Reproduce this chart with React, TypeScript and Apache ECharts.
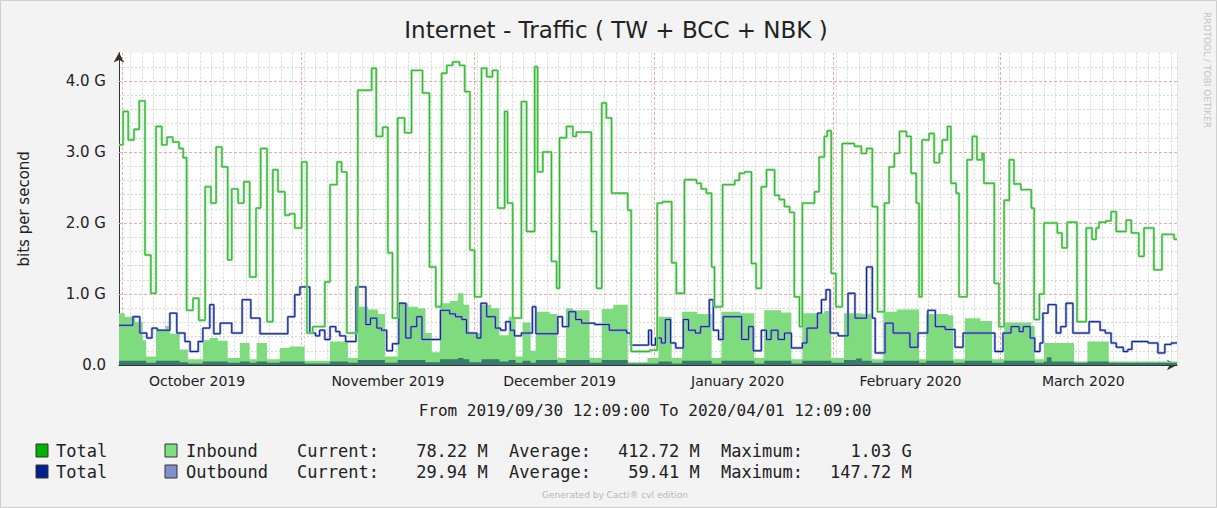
import React, { useEffect, useRef } from 'react';
import * as echarts from 'echarts';

const TITLE = 'Internet - Traffic ( TW + BCC + NBK )';
const Y_NAME = 'bits per second';
const RANGE_TEXT = 'From 2019/09/30 12:09:00 To 2020/04/01 12:09:00';
const WATERMARK = 'RRDTOOL / TOBI OETIKER';
const GENERATED = 'Generated by Cacti\u00AE cvl edition';

// x unit: days since 2019/09/30 12:09
const X_MAX = 183;
const MONTH_LABELS = ['October 2019', 'November 2019', 'December 2019', 'January 2020', 'February 2020', 'March 2020'];
const MONTH_LABEL_DAYS = [13.5, 46.5, 76.2, 107.0, 136.9, 166.8];
const MONTH_START_DAYS = [0.5, 31.5, 61.5, 92.5, 123.5, 152.5];
const Y_TICKS = [0, 1, 2, 3, 4]; // Gbit/s

const LEGEND_NAMES = ['Inbound', 'Outbound'];
const CURRENT = ['78.22 M', '29.94 M'];
const AVERAGE = ['412.72 M', '59.41 M'];
const MAXIMUM = ['1.03 G', '147.72 M'];

// [day, Gbit/s] step breakpoints
const totalInbound: [number, number][] = [
  [0, 3.10], [0.7, 3.57], [1.6, 3.17], [2.6, 3.32], [3.5, 3.72], [4.5, 1.55], [5.5, 1.01], [6.4, 3.36], [7.4, 3.10], [8.3, 3.21],
  [9.3, 3.14], [10.4, 3.05], [11.1, 2.92], [11.7, 0.77], [12.8, 0.94], [13.8, 0.63], [14.9, 2.51], [15.9, 2.28], [16.8, 3.07], [17.8, 2.79],
  [18.8, 1.48], [19.5, 2.48], [20.6, 2.28], [21.6, 2.58], [22.6, 1.24], [23.7, 2.21], [24.5, 3.05], [25.6, 0.61], [26.6, 2.75], [27.5, 2.44],
  [28.7, 2.11], [29.5, 2.13], [30.4, 1.93], [31.6, 2.86], [32.5, 0.45], [33.5, 0.54], [35.6, 1.17], [36.5, 2.54], [37.7, 2.86], [38.5, 2.72],
  [39.4, 0.45], [41.3, 3.87], [43.7, 4.18], [44.5, 3.22], [45.6, 3.35], [46.5, 1.58], [47.3, 0.66], [48.2, 3.48], [49.4, 3.27], [50.6, 4.15],
  [52.5, 3.83], [53.7, 1.38], [54.8, 0.82], [55.8, 4.11], [56.7, 4.22], [57.7, 4.27], [58.9, 4.22], [59.8, 3.85], [60.7, 1.62], [61.5, 0.96],
  [62.7, 4.18], [63.6, 4.06], [64.6, 4.15], [65.5, 2.21], [66.7, 3.57], [67.2, 2.28], [68.1, 0.66], [69.6, 3.71], [70.5, 1.88], [71.9, 4.20],
  [72.4, 2.72], [73.3, 3.00], [74.8, 1.46], [75.7, 1.08], [76.2, 3.20], [77.4, 3.36], [78.5, 3.22], [79.1, 3.28], [81.7, 1.88], [82.6, 1.08],
  [83.5, 3.69], [84.3, 3.48], [85.2, 2.42], [88.0, 2.18], [88.6, 0.19], [91.8, 0.21], [93.1, 2.28], [94.0, 2.30], [95.6, 1.44], [96.4, 1.01],
  [97.8, 2.61], [99.9, 2.56], [100.7, 2.48], [101.6, 2.42], [102.5, 1.38], [103.0, 0.82], [104.4, 2.54], [106.5, 2.60], [107.3, 2.70], [108.2, 2.72],
  [109.4, 1.43], [110.2, 1.08], [111.1, 2.51], [112.0, 2.75], [113.4, 2.39], [114.2, 2.33], [115.1, 2.23], [116.0, 2.15], [116.8, 0.96], [117.7, 0.54],
  [118.2, 2.28], [120.3, 2.44], [121.1, 2.93], [122.0, 3.22], [122.5, 3.30], [123.2, 1.29], [124.0, 0.82], [125.1, 3.12], [127.2, 3.08], [128.4, 2.98],
  [129.3, 3.05], [130.3, 2.23], [131.2, 0.75], [132.4, 2.28], [133.2, 2.79], [134.1, 2.98], [135.0, 3.29], [136.2, 3.22], [137.0, 2.70], [137.9, 2.28],
  [138.4, 0.96], [138.9, 3.17], [140.1, 3.26], [141.0, 2.85], [141.9, 2.98], [142.4, 3.17], [143.3, 3.36], [143.9, 2.56], [144.8, 2.42], [145.3, 0.96],
  [146.7, 2.89], [147.6, 3.22], [148.4, 2.89], [149.3, 2.98], [149.6, 2.56], [151.4, 1.15], [152.2, 0.54], [153.1, 2.32], [154.0, 2.89], [154.8, 2.55],
  [156.0, 2.47], [157.8, 2.21], [158.3, 0.64], [159.2, 1.00], [160.0, 2.00], [162.3, 1.86], [163.1, 1.65], [164.0, 2.01], [165.7, 0.61], [167.3, 1.93],
  [168.3, 1.77], [169.0, 1.93], [169.5, 2.01], [170.7, 2.03], [171.6, 2.16], [172.5, 1.88], [174.2, 2.04], [175.1, 1.86], [176.4, 1.53], [177.3, 1.93],
  [179.0, 1.34], [180.4, 1.84], [182.5, 1.77], [183, 1.77],
];

const totalOutbound: [number, number][] = [
  [0, 0.56], [2.4, 0.68], [3.6, 0.45], [4.8, 0.38], [5.7, 0.52], [6.6, 0.49], [8.8, 0.73], [10.0, 0.45], [11.4, 0.33], [12.3, 0.19],
  [13.7, 0.33], [14.5, 0.52], [15.7, 0.85], [16.4, 0.44], [17.5, 0.59], [19.5, 0.45], [21.3, 0.92], [22.8, 0.66], [24.4, 0.44], [29.2, 0.68],
  [30.4, 0.99], [31.3, 1.10], [33.0, 0.45], [34.0, 0.41], [34.7, 0.49], [35.6, 0.36], [36.5, 0.54], [37.5, 0.47], [38.2, 0.41], [39.2, 0.33],
  [41.0, 1.10], [42.7, 0.57], [43.5, 0.66], [44.6, 0.52], [45.4, 0.49], [46.3, 0.20], [47.3, 0.30], [48.4, 0.87], [49.6, 0.38], [50.5, 0.54],
  [51.5, 0.68], [52.4, 0.36], [55.6, 0.77], [57.2, 0.72], [58.2, 0.68], [59.3, 0.64], [60.1, 0.45], [61.9, 0.38], [62.6, 0.87], [63.6, 0.68],
  [65.1, 0.52], [66.0, 0.49], [66.9, 0.61], [67.7, 0.49], [68.4, 0.41], [69.6, 0.45], [71.5, 0.82], [72.1, 0.44], [75.9, 0.68], [76.7, 0.54],
  [77.8, 0.75], [79.0, 0.64], [80.0, 0.59], [82.3, 0.57], [84.8, 0.49], [87.8, 0.45], [88.5, 0.28], [91.6, 0.49], [92.1, 0.28], [92.8, 0.38],
  [93.8, 0.31], [94.5, 0.64], [95.4, 0.31], [96.3, 0.24], [97.6, 0.64], [98.5, 0.49], [99.7, 0.45], [100.6, 0.54], [102.1, 0.92], [102.8, 0.49],
  [103.7, 0.36], [104.5, 0.68], [107.7, 0.36], [108.9, 0.54], [109.7, 0.20], [111.1, 0.49], [112.0, 0.36], [112.8, 0.49], [114.0, 0.36], [115.1, 0.45],
  [116.3, 0.24], [118.2, 0.31], [119.0, 0.52], [120.8, 0.73], [121.5, 0.92], [122.3, 1.06], [123.0, 0.45], [124.4, 0.41], [126.1, 1.01], [127.3, 0.66],
  [129.3, 1.38], [130.3, 0.66], [130.8, 0.17], [132.5, 0.59], [133.9, 0.45], [136.8, 0.25], [138.2, 0.45], [139.9, 0.77], [141.2, 0.54], [142.9, 0.50],
  [144.6, 0.25], [146.0, 0.45], [151.5, 0.19], [152.9, 0.45], [154.3, 0.54], [155.7, 0.47], [156.4, 0.54], [157.6, 0.38], [158.4, 0.19], [159.3, 0.31],
  [159.8, 0.73], [160.7, 0.85], [162.1, 0.45], [162.9, 0.54], [163.8, 0.87], [165.0, 0.45], [167.8, 0.61], [169.7, 0.49], [170.6, 0.45], [171.6, 0.31],
  [172.5, 0.25], [173.7, 0.19], [174.5, 0.22], [175.2, 0.33], [178.0, 0.31], [179.7, 0.17], [180.9, 0.29], [182.0, 0.31], [183, 0.31],
];

const inboundArea: [number, number][] = [
  [0, 0.73], [1.0, 0.68], [2.8, 0.61], [4.1, 0.35], [4.7, 0.12], [6.4, 0.50], [8.0, 0.55], [8.8, 0.44], [10.5, 0.22], [11.9, 0.08],
  [14.5, 0.35], [15.7, 0.38], [17.1, 0.34], [18.8, 0.10], [20.9, 0.31], [22.6, 0.08], [23.8, 0.31], [25.6, 0.08], [27.8, 0.24], [29.5, 0.26],
  [32.1, 0.06], [36.5, 0.33], [39.6, 0.10], [41.3, 0.82], [43.1, 0.78], [44.8, 0.72], [46.0, 0.12], [48.2, 0.87], [50.0, 0.82], [51.7, 0.80],
  [53.0, 0.45], [54.1, 0.18], [55.5, 0.87], [57.2, 0.90], [58.6, 1.01], [59.6, 0.85], [60.6, 0.45], [62.7, 0.85], [64.4, 0.80], [65.8, 0.42],
  [67.4, 0.68], [68.6, 0.12], [69.8, 0.60], [71.2, 0.20], [72.1, 0.75], [74.5, 0.72], [75.8, 0.10], [77.3, 0.80], [78.5, 0.77], [81.4, 0.10],
  [83.5, 0.79], [85.5, 0.85], [88.0, 0.04], [91.4, 0.10], [93.3, 0.68], [95.6, 0.10], [97.4, 0.75], [100.0, 0.72], [102.5, 0.10], [104.2, 0.75],
  [107.5, 0.73], [109.9, 0.10], [111.6, 0.77], [114.5, 0.74], [116.3, 0.08], [118.2, 0.73], [122.0, 0.76], [123.2, 0.10], [125.4, 0.73], [128.5, 0.72],
  [130.2, 0.08], [132.2, 0.75], [134.5, 0.78], [138.4, 0.08], [139.6, 0.72], [143.4, 0.70], [144.3, 0.08], [146.3, 0.66], [149.0, 0.62], [151.0, 0.08],
  [153.1, 0.60], [157.8, 0.55], [158.4, 0.08], [160.0, 0.31], [165.2, 0.05], [167.5, 0.33], [171.2, 0.05], [183, 0.05],
];

const outboundArea: [number, number][] = [
  [0, 0.06], [4.7, 0.03], [6.4, 0.06], [10.5, 0.04], [11.9, 0.02], [14.5, 0.05], [18.8, 0.03], [20.9, 0.05], [22.6, 0.03], [23.8, 0.05],
  [25.6, 0.03], [27.8, 0.05], [32.1, 0.02], [36.5, 0.05], [39.6, 0.03], [41.3, 0.07], [46.0, 0.03], [48.2, 0.07], [53.0, 0.04], [55.5, 0.08],
  [58.6, 0.10], [59.6, 0.08], [60.6, 0.04], [62.7, 0.08], [65.8, 0.05], [67.4, 0.07], [68.6, 0.03], [69.8, 0.06], [71.2, 0.03], [72.1, 0.07],
  [75.8, 0.03], [77.3, 0.07], [81.4, 0.03], [83.5, 0.07], [88.0, 0.02], [93.3, 0.05], [95.6, 0.02], [97.4, 0.06], [102.5, 0.02], [104.2, 0.06],
  [109.9, 0.02], [111.6, 0.06], [116.3, 0.02], [118.2, 0.06], [123.2, 0.03], [125.4, 0.07], [127.5, 0.09], [128.5, 0.06], [130.2, 0.03], [132.2, 0.06],
  [138.4, 0.03], [139.6, 0.06], [144.3, 0.03], [146.3, 0.06], [151.0, 0.03], [153.1, 0.06], [158.4, 0.03], [160.0, 0.05], [160.5, 0.11], [161.3, 0.05],
  [165.2, 0.03], [167.5, 0.05], [171.2, 0.03], [183, 0.03],
];

const SANS = '"DejaVu Sans", sans-serif';
const MONO = '"DejaVu Sans Mono", monospace';

function buildOption() {
  const stepLine = (name: string, data: [number, number][], color: string, width: number, z: number) => ({
    name,
    type: 'line',
    step: 'end',
    data,
    symbol: 'none',
    z,
    silent: true,
    lineStyle: { color, width },
  });

  const legendGraphics: any[] = [];
  const rowY = [451, 472];
  const boxColors = [['#00b400', '#80e080'], ['#00218c', '#8090cc']];
  const cw = 10.6;
  const x0 = 297;
  const txt = (x: number, y: number, text: string, align = 'left') => ({
    type: 'text', x, y,
    style: { text, font: `17px ${MONO}`, fill: '#222', textAlign: align, textVerticalAlign: 'middle' },
  });
  rowY.forEach((y, i) => {
    legendGraphics.push(
      { type: 'rect', shape: { x: 36, y: y - 7, width: 12, height: 13 }, style: { fill: boxColors[i][0], stroke: '#333', lineWidth: 1 } },
      txt(56, y, 'Total'),
      { type: 'rect', shape: { x: 165, y: y - 7, width: 12, height: 13 }, style: { fill: boxColors[i][1], stroke: '#333', lineWidth: 1 } },
      txt(186, y, LEGEND_NAMES[i]),
      txt(x0, y, 'Current:'),
      txt(x0 + 18 * cw, y, CURRENT[i], 'right'),
      txt(x0 + 20 * cw, y, 'Average:'),
      txt(x0 + 38 * cw, y, AVERAGE[i], 'right'),
      txt(x0 + 40 * cw, y, 'Maximum:'),
      txt(x0 + 58 * cw, y, MAXIMUM[i], 'right'),
    );
  });

  return {
    animation: false,
    backgroundColor: '#f3f3f3',
    grid: { left: 119, right: 40, top: 52.6, bottom: 143, show: true, backgroundColor: '#ffffff', borderWidth: 0 },
    xAxis: {
      type: 'value',
      min: 0,
      max: X_MAX,
      interval: 2,
      axisLine: { show: true, lineStyle: { color: '#333', width: 1 }, symbol: ['none', 'arrow'], symbolSize: [8, 10] },
      axisTick: { show: false },
      axisLabel: {
        customValues: MONTH_LABEL_DAYS,
        formatter: (v: number) => {
          const i = MONTH_LABEL_DAYS.findIndex((d) => Math.abs(d - v) < 0.01);
          return i >= 0 ? MONTH_LABELS[i] : '';
        },
        fontFamily: SANS,
        fontSize: 14,
        color: '#222',
        margin: 9,
      },
      splitLine: { show: true, lineStyle: { color: '#d6d6d6', width: 1, type: [2, 2] } },
    },
    yAxis: {
      type: 'value',
      min: 0,
      max: 4.4,
      interval: 1,
      name: Y_NAME,
      nameLocation: 'middle',
      nameRotate: 90,
      nameGap: 88,
      nameTextStyle: { fontFamily: SANS, fontSize: 15, color: '#222' },
      axisLine: { show: true, lineStyle: { color: '#333', width: 1 }, symbol: ['none', 'arrow'], symbolSize: [8, 10] },
      axisTick: { show: false },
      axisLabel: {
        formatter: (v: number) => {
          if (!Y_TICKS.includes(v)) return '';
          return v === 0 ? '0.0' : `${v.toFixed(1)} G`;
        },
        fontFamily: SANS,
        fontSize: 15,
        color: '#222',
        margin: 13,
      },
      splitLine: { show: false },
      minorTick: { show: false, splitNumber: 5 },
      minorSplitLine: { show: true, lineStyle: { color: '#d6d6d6', width: 1, type: [2, 2] } },
    },
    series: [
      {
        name: 'Inbound',
        type: 'line',
        step: 'end',
        data: inboundArea,
        symbol: 'none',
        silent: true,
        z: 2,
        lineStyle: { width: 0 },
        areaStyle: { color: '#7edc7e', opacity: 1 },
        markLine: {
          silent: true,
          z: 1,
          symbol: ['none', 'none'],
          label: { show: false },
          lineStyle: { color: '#f0a8a8', width: 1, type: [3, 2] },
          data: [
            ...MONTH_START_DAYS.map((d) => ({ xAxis: d })),
            ...Y_TICKS.filter((v) => v > 0).map((v) => ({ yAxis: v })),
          ],
        },
      },
      {
        name: 'Outbound',
        type: 'line',
        step: 'end',
        data: outboundArea,
        symbol: 'none',
        silent: true,
        z: 3,
        lineStyle: { width: 0 },
        areaStyle: { color: '#3a7a6c', opacity: 1 },
      },
      stepLine('Total Outbound halo', totalOutbound, '#8e9cdc', 2.4, 4),
      stepLine('Total Outbound', totalOutbound, '#0c2382', 1, 5),
      stepLine('Total Inbound halo', totalInbound, '#80e080', 2.4, 6),
      stepLine('Total Inbound', totalInbound, '#3bb03b', 1, 7),
    ],
    graphic: [
      { type: 'rect', shape: { x: 0.5, y: 0.5, width: 1216, height: 507 }, style: { fill: 'none', stroke: '#cfcfcf', lineWidth: 1 }, z: 0 },
      { type: 'text', x: 616, y: 30, style: { text: TITLE, font: `23px ${SANS}`, fill: '#222', textAlign: 'center', textVerticalAlign: 'middle' } },
      { type: 'text', x: 645, y: 410, style: { text: RANGE_TEXT, font: `16px ${MONO}`, fill: '#222', textAlign: 'center', textVerticalAlign: 'middle' } },
      { type: 'text', x: 615, y: 495, style: { text: GENERATED, font: `9px ${SANS}`, fill: '#b8b8b8', textAlign: 'center', textVerticalAlign: 'middle' } },
      { type: 'text', x: 1207, y: 70, rotation: -Math.PI / 2, style: { text: WATERMARK, font: `9px ${SANS}`, fill: '#c4c4c4', textAlign: 'center', textVerticalAlign: 'middle' } },
      ...legendGraphics,
    ],
  };
}

export default function App() {
  const ref = useRef<HTMLDivElement>(null);
  useEffect(() => {
    document.body.style.margin = '0';
    const chart = echarts.init(ref.current!, null, { renderer: 'svg' });
    chart.setOption(buildOption() as any);
    return () => chart.dispose();
  }, []);
  return <div ref={ref} style={{ width: 1217, height: 508 }} />;
}
